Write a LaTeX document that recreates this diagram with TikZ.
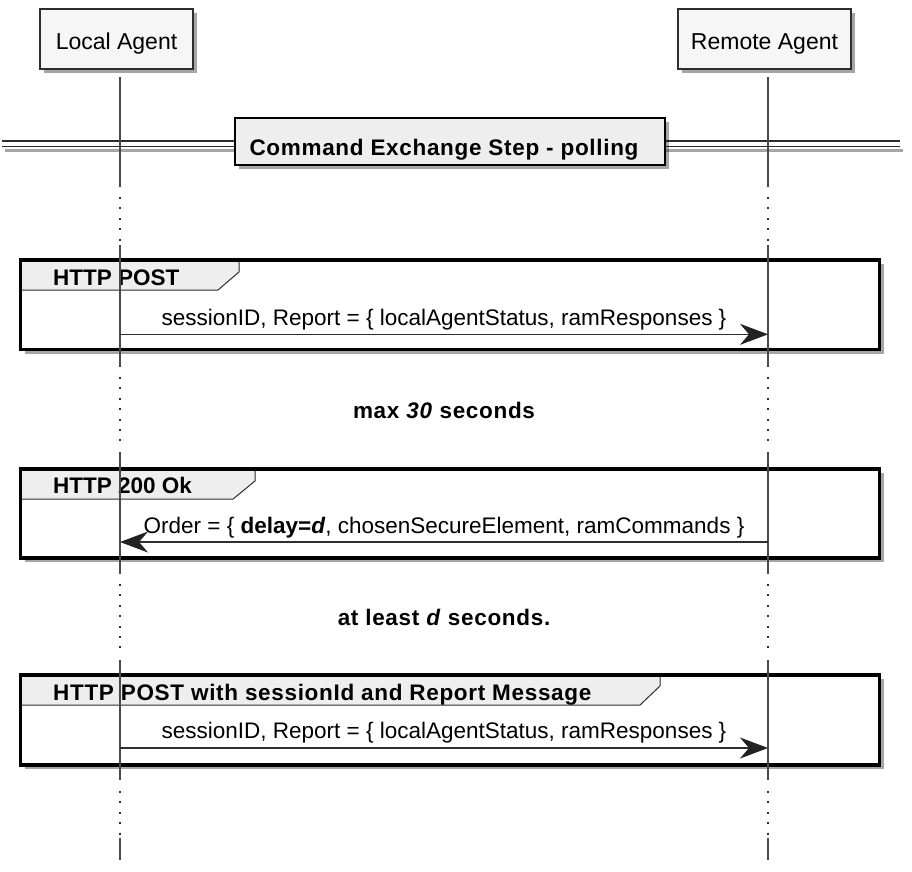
\documentclass[tikz,border=0pt]{standalone}
\usepackage{fontspec}
\setmainfont{Liberation Sans}
\newfontfamily\spbold{Liberation Sans}[LetterSpace=3]
\usetikzlibrary{arrows.meta,shadows}
\definecolor{partfill}{HTML}{F6F6F6}
\definecolor{tabfill}{HTML}{EEEEEE}
\definecolor{lifec}{HTML}{4A4A4A}
\definecolor{edgec}{HTML}{2E2E2E}
\definecolor{arrc}{HTML}{222222}
\begin{document}
\begin{tikzpicture}[x=1pt,y=-1pt,
  shad/.style={drop shadow={shadow xshift=4pt,shadow yshift=-4pt,opacity=.35,fill=black}},
  partbox/.style={draw=edgec, line width=2pt, fill=partfill, shad,
    minimum width=153pt, minimum height=60pt, inner sep=0pt,
    text height=20pt, text depth=0pt, font=\fontsize{23}{26}\selectfont},
  divbox/.style={draw=black, line width=2.4pt, fill=tabfill, shad,
    minimum width=430pt, minimum height=47pt, inner sep=0pt},
  frameback/.style={fill=white, shad},
  frameline/.style={draw=black, line width=3.8pt},
  tabshape/.style={fill=tabfill, draw=edgec, line width=1pt},
  life/.style={draw=lifec, line width=1.1pt},
  lifedot/.style={draw=edgec, line width=2pt, dash pattern=on 2pt off 8.4pt},
  msg/.style={draw=edgec, line width=1.1pt,
    -{Stealth[length=28pt,width=21pt,inset=9pt,fill=arrc,color=arrc]}},
  msgtxt/.style={anchor=base, inner sep=0pt, font=\fontsize{22.5}{26}\selectfont},
  headtxt/.style={anchor=base west, inner sep=0pt, font=\fontsize{22.5}{26}\selectfont\bfseries},
  boldtxt/.style={anchor=base, inner sep=0pt, font=\fontsize{22.5}{26}\selectfont\spbold\bfseries}
]
\useasboundingbox (0,0) rectangle (912,871);

% participants
\node[partbox] (la) at (116.5,39) {Local Agent};
\node[partbox, minimum width=173pt] (ra) at (764.5,39) {Remote Agent};

% divider
\fill[white] (2,141) rectangle (900,146.5);
\draw[black!35, line width=2.5pt] (5,150.5) -- (903,150.5);
\draw[edgec, line width=1.5pt] (2,141) -- (900,141);
\draw[edgec, line width=1.5pt] (2,146.5) -- (900,146.5);
\node[divbox] (dv) at (450,141.5) {};
\node[boldtxt] (dvt) at (444,155) {Command Exchange Step - polling};

% group frames (background + shadow)
\path[frameback] (20.5,260) rectangle (879.5,349.5);
\path[frameback] (20.5,469) rectangle (879.5,558);
\path[frameback] (20.5,675) rectangle (879.5,765);

% header tabs
\path[tabshape] (20.5,260) -- (239,260) -- (239,272) -- (218,290) -- (20.5,290) -- cycle;
\path[tabshape] (20.5,469) -- (255,469) -- (255,481) -- (233,499) -- (20.5,499) -- cycle;
\path[tabshape] (20.5,675) -- (660,675) -- (660,686) -- (640,705) -- (20.5,705) -- cycle;

% frame borders
\path[frameline] (20.5,260) rectangle (879.5,349.5);
\path[frameline] (20.5,469) rectangle (879.5,558);
\path[frameline] (20.5,675) rectangle (879.5,765);

\node[headtxt] (h1) at (53,285) {HTTP POST};
\node[headtxt] (h2) at (53,493) {HTTP 200 Ok};
\node[headtxt, font=\fontsize{22.5}{26}\selectfont\spbold\bfseries] (h3) at (53,700) {HTTP POST with sessionId and Report Message};

% lifelines
\foreach \x in {120,768}{
  \draw[life] (\x,77) -- (\x,187);
  \draw[lifedot] (\x,197) -- (\x,243);
  \draw[life] (\x,245) -- (\x,367);
  \draw[lifedot] (\x,377) -- (\x,449);
  \draw[life] (\x,452) -- (\x,574);
  \draw[lifedot] (\x,584) -- (\x,656);
  \draw[life] (\x,660) -- (\x,780);
  \draw[lifedot] (\x,791) -- (\x,836);
  \draw[life] (\x,838) -- (\x,860);
}

% messages
\coordinate (m1l) at (120,334.3);
\coordinate (m1r) at (768,334.3);
\coordinate (m2l) at (120,542);
\coordinate (m2r) at (768,542);
\coordinate (m3l) at (120,748);
\coordinate (m3r) at (768,748);
\draw[msg] (m1l) -- (m1r);
\draw[msg] (m2r) -- (m2l);
\draw[msg] (m3l) -- (m3r);
\node[msgtxt] (t1) at (444,325) {sessionID, Report = \{ localAgentStatus, ramResponses \}};
\node[msgtxt] (t2) at (444,533) {Order = \{ \textbf{delay=\textit{d}}, chosenSecureElement, ramCommands \}};
\node[msgtxt] (t3) at (444,738) {sessionID, Report = \{ localAgentStatus, ramResponses \}};

% delays
\node[boldtxt] (d1) at (444,418) {max \textit{30} seconds};
\node[boldtxt] (d2) at (444,625) {at least \textit{d} seconds.};
\end{tikzpicture}
\end{document}
